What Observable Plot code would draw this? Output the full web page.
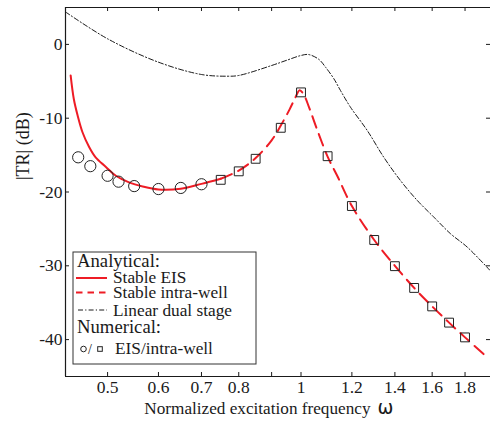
<!DOCTYPE html>
<html>
<head>
<meta charset="utf-8">
<script src="https://cdn.jsdelivr.net/npm/d3@7"></script>
<script src="https://cdn.jsdelivr.net/npm/@observablehq/plot@0.6"></script>
<style>
  html, body { margin: 0; padding: 0; background: #fff; }
  svg { display: block; }
</style>
</head>
<body>
<div id="chart"></div>
<script>
// ---- data ----
const xDomain = [0.43, 1.972];
const yDomain = [-45, 5];
const xTicks = [0.5, 0.6, 0.7, 0.8, 0.9, 1, 1.2, 1.4, 1.6, 1.8];
const yTicks = [0, -10, -20, -30, -40];

// Analytical: Stable EIS (solid red)
const eisW = [0.438, 0.443, 0.449, 0.457, 0.468, 0.479, 0.497, 0.515, 0.54, 0.567, 0.6, 0.65, 0.7, 0.75];
const eisDb = [-4.2, -7.4, -9.6, -11.9, -13.9, -15.3, -16.6, -17.8, -18.7, -19.25, -19.65, -19.55, -18.9, -18.2];

// Analytical: Stable intra-well (dashed red)
const intraW = [0.75, 0.8, 0.85, 0.9, 0.93, 0.96, 0.98, 0.995, 1.01, 1.03, 1.06, 1.1, 1.14, 1.2, 1.3, 1.4, 1.5, 1.6, 1.7, 1.8, 1.943];
const intraDb = [-18.2, -17.1, -15.4, -13.0, -11.0, -8.8, -7.2, -6.2, -6.8, -8.6, -11.6, -15.2, -17.9, -21.9, -26.5, -30.0, -33.0, -35.5, -37.7, -39.7, -42.3];

// Analytical: Linear dual stage (dash-dot black)
const linW = [0.43, 0.5, 0.6, 0.7, 0.768, 0.8, 0.9, 0.95, 1.0, 1.027, 1.066, 1.092, 1.125, 1.152, 1.194, 1.268, 1.345, 1.428, 1.517, 1.61, 1.709, 1.815, 1.972];
const linDb = [4.4, 0.76, -2.41, -4.08, -4.31, -4.21, -2.86, -2.15, -1.5, -1.37, -2.03, -3.09, -4.66, -6.25, -8.51, -11.67, -15.28, -18.44, -21.15, -23.41, -25.66, -27.48, -30.7];

// Numerical: EIS (circles)
const numEisW = [0.45, 0.47, 0.5, 0.52, 0.55, 0.6, 0.65, 0.7];
const numEisDb = [-15.3, -16.5, -17.8, -18.6, -19.2, -19.6, -19.45, -18.95];

// Numerical: intra-well (squares)
const numIntraW = [0.75, 0.8, 0.85, 0.93, 1.0, 1.1, 1.2, 1.3, 1.4, 1.5, 1.6, 1.7, 1.8];
const numIntraDb = [-18.35, -17.2, -15.5, -11.3, -6.5, -15.15, -21.9, -26.5, -30.05, -33.0, -35.5, -37.7, -39.7];

const legendHeaders = ["Analytical:", "Numerical:"];
const legendLabels = ["Stable EIS", "Stable intra-well", "Linear dual stage", "EIS/intra-well"];
const xLabel = "Normalized excitation frequency";
const xLabelSymbol = "ω";
const yLabel = "|TR| (dB)";

// ---- build ----
const zip = (xs, ys) => xs.map((x, i) => ({x, y: ys[i]}));
const eis = zip(eisW, eisDb);
const intra = zip(intraW, intraDb);
const lin = zip(linW, linDb);
const numEis = zip(numEisW, numEisDb);
const numIntra = zip(numIntraW, numIntraDb);

const SERIF = "'Liberation Serif', 'Times New Roman', serif";
const RED = "#ee1c25";
const INK = "#1a1a1a";
const W = 490, H = 421;
const mL = 65, mT = 7, mB = 45, mR = 0;
const fw = W - mL - mR, fh = H - mT - mB;
const TL = 4;

const plot = Plot.plot({
  width: W, height: H,
  marginLeft: mL, marginTop: mT, marginBottom: mB, marginRight: mR,
  style: {fontFamily: SERIF, background: "#fff", color: INK},
  x: {type: "log", domain: xDomain},
  y: {domain: yDomain},
  marks: [
    Plot.line(lin, {x: "x", y: "y", stroke: "#000", strokeWidth: 0.9, strokeDasharray: "5,2.2,1.2,2.2", curve: "catmull-rom", clip: true}),
    Plot.line(eis, {x: "x", y: "y", stroke: RED, strokeWidth: 2, curve: "catmull-rom", clip: true}),
    Plot.line(intra, {x: "x", y: "y", stroke: RED, strokeWidth: 2, strokeDasharray: "12,7", curve: "catmull-rom", clip: true}),
    Plot.dot(numEis, {x: "x", y: "y", r: 5.6, stroke: "#222", strokeWidth: 1, fill: "none"}),
    Plot.dot(numIntra, {x: "x", y: "y", r: 5.0, symbol: "square", stroke: "#222", strokeWidth: 1, fill: "none"}),
    // frame (left, top, bottom)
    Plot.ruleY([yDomain[0], yDomain[1]], {stroke: INK, strokeWidth: 1.2}),
    Plot.ruleX([xDomain[0]], {stroke: INK, strokeWidth: 1.2}),
    // inward ticks
    Plot.ruleX(xTicks, {stroke: INK, insetTop: fh - TL}),
    Plot.ruleX(xTicks, {stroke: INK, insetBottom: fh - TL}),
    Plot.ruleY(yTicks, {stroke: INK, insetRight: fw - TL}),
    Plot.ruleY(yTicks, {stroke: INK, insetLeft: fw - TL}),
    Plot.axisX(xTicks, {anchor: "bottom", tickSize: 0, tickPadding: 4, tickFormat: d => String(d), fontSize: 17.5, fontFamily: SERIF, label: null, fill: INK}),
    Plot.axisY(yTicks, {anchor: "left", tickSize: 0, tickPadding: 3, tickFormat: d => String(d), fontSize: 17.5, fontFamily: SERIF, label: null, fill: INK}),
    Plot.text([xLabel], {frameAnchor: "bottom", text: d => d, fontSize: 17.2, fontFamily: SERIF, textAnchor: "end", dx: 370 - 277.5, dy: 37, lineAnchor: "bottom", fill: INK}),
    Plot.text([xLabelSymbol], {frameAnchor: "bottom", text: d => d, fontSize: 19, fontFamily: "DejaVu Sans", textAnchor: "start", dx: 377 - 277.5, dy: 37, lineAnchor: "bottom", fill: INK}),
    Plot.text([yLabel], {frameAnchor: "left", text: d => d, fontSize: 18, fontFamily: SERIF, rotate: -90, dx: -42, dy: -12, fill: INK})
  ]
});

// ---- legend (inside plot, drawn onto the same svg) ----
const svg = d3.select(plot);
const lg = svg.append("g").attr("font-family", SERIF).attr("fill", INK).attr("text-anchor", "start");
const bx = 73, by = 252, bw = 183, bh = 112;
lg.append("rect").attr("x", bx).attr("y", by).attr("width", bw).attr("height", bh)
  .attr("fill", "#fff").attr("stroke", "#333").attr("stroke-width", 1);
const T = (x, y, s, t) => lg.append("text").attr("x", x).attr("y", y).attr("font-size", s).attr("text-anchor", "start").text(t);
T(77, 266.5, 18.7, legendHeaders[0]);
lg.append("line").attr("x1", 76).attr("x2", 107).attr("y1", 278).attr("y2", 278).attr("stroke", RED).attr("stroke-width", 2);
T(113, 282.5, 17.3, legendLabels[0]);
lg.append("line").attr("x1", 76).attr("x2", 107).attr("y1", 292.5).attr("y2", 292.5).attr("stroke", RED).attr("stroke-width", 2).attr("stroke-dasharray", "6.5,5");
T(113, 297.5, 17.3, legendLabels[1]);
lg.append("line").attr("x1", 78).attr("x2", 107).attr("y1", 310).attr("y2", 310).attr("stroke", "#000").attr("stroke-width", 0.9).attr("stroke-dasharray", "5,2.2,1.2,2.2");
T(113, 315.5, 17.3, legendLabels[2]);
T(77, 333, 18.7, legendHeaders[1]);
lg.append("circle").attr("cx", 83.5).attr("cy", 349).attr("r", 2.8).attr("fill", "none").attr("stroke", "#222").attr("stroke-width", 1);
T(88, 353.5, 14, "/");
lg.append("rect").attr("x", 97.7).attr("y", 346.7).attr("width", 4.6).attr("height", 4.6).attr("fill", "none").attr("stroke", "#222").attr("stroke-width", 1);
T(115, 353.5, 17.3, legendLabels[3]);

document.getElementById("chart").appendChild(plot);
</script>
</body>
</html>
